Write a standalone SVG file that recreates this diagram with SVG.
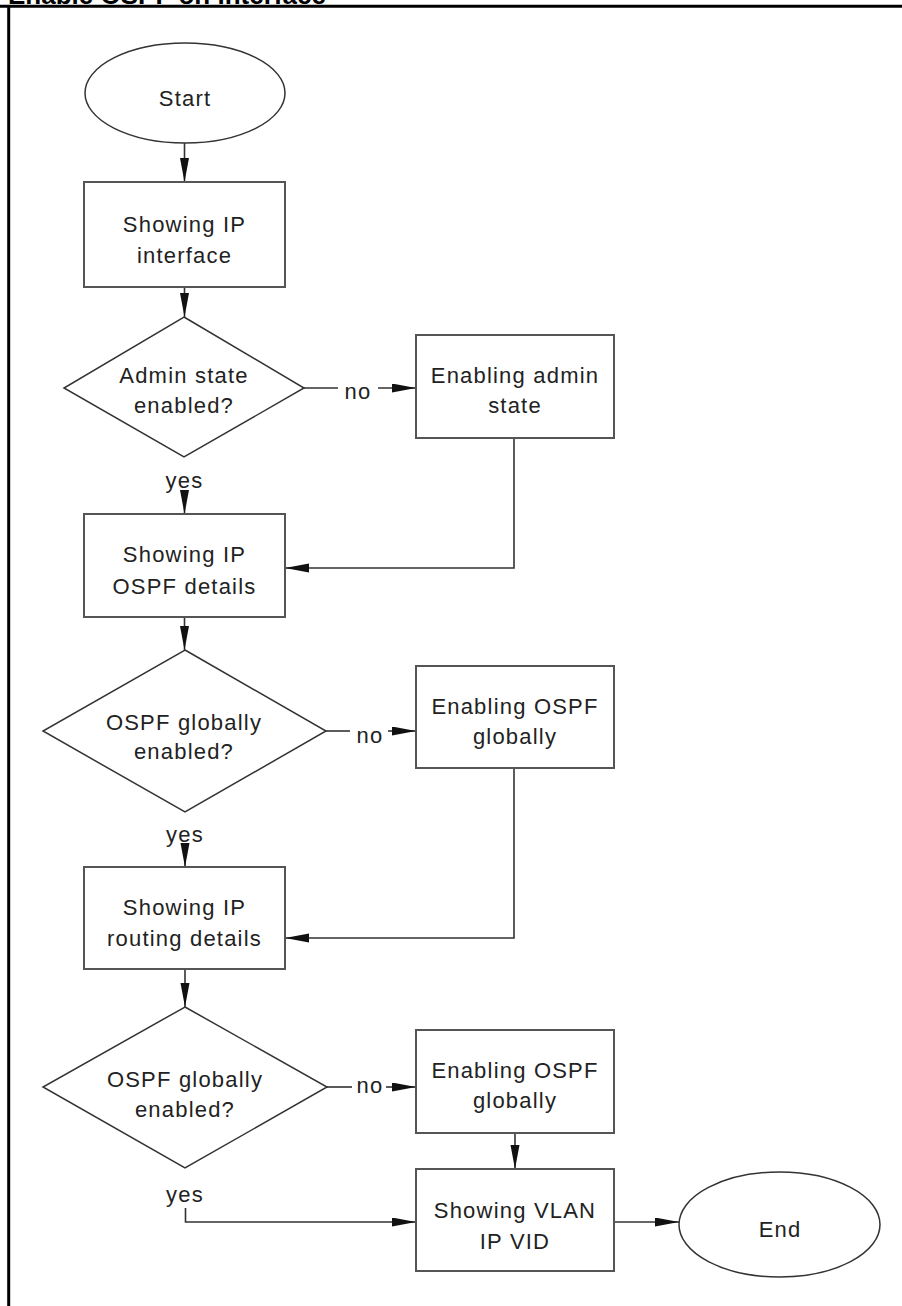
<svg xmlns="http://www.w3.org/2000/svg" width="902" height="1306" viewBox="0 0 902 1306">
<defs>
<marker id="arr" markerUnits="userSpaceOnUse" markerWidth="26" markerHeight="10" refX="24" refY="4.5" orient="auto">
<path d="M0,0 L24,4.5 L0,9 z" fill="#111"/>
</marker>
<style>
.box{fill:#fff;stroke:#555;stroke-width:2}
.dia{fill:#fff;stroke:#333;stroke-width:1.5}
.ell{fill:#fff;stroke:#333;stroke-width:1.5}
.t{font-family:"Liberation Sans",Arial,sans-serif;font-size:22px;fill:#222;text-anchor:middle;letter-spacing:1.2px}
.c{fill:none;stroke:#333;stroke-width:1.6}
.ca{fill:none;stroke:#333;stroke-width:1.6;marker-end:url(#arr)}
</style>
</defs>
<rect width="902" height="1306" fill="#fff"/>
<g id="frame">
<text x="8" y="3.5" font-family="'Liberation Sans',Arial,sans-serif" font-size="26" font-weight="bold" fill="#000">Enable OSPF on interface</text>
<line x1="0" y1="6.2" x2="902" y2="6.2" stroke="#000" stroke-width="3"/>
<line x1="8.7" y1="6" x2="8.7" y2="1306" stroke="#000" stroke-width="3"/>
</g>
<g id="connectors">
<path class="ca" d="M184.5 143 V182"/>
<path class="ca" d="M184.5 287 V317"/>
<path class="c" d="M304 388 H338"/>
<path class="ca" d="M378 388 H416"/>
<path class="ca" d="M184.5 493 V514"/>
<path class="ca" d="M514 438 V568 H285"/>
<path class="ca" d="M184.5 617 V650"/>
<path class="c" d="M326 731 H350"/>
<path class="ca" d="M388 731 H416"/>
<path class="ca" d="M185 846 V867"/>
<path class="ca" d="M514 768 V938 H285"/>
<path class="ca" d="M185 969 V1007"/>
<path class="c" d="M327 1087 H352"/>
<path class="ca" d="M386 1087 H416"/>
<path class="ca" d="M515 1133 V1169"/>
<path class="ca" d="M185.5 1208 V1222 H416"/>
<path class="ca" d="M614 1222 H679"/>
<text class="t" x="358" y="399">no</text>
<text class="t" x="184.5" y="488">yes</text>
<text class="t" x="370" y="742.5">no</text>
<text class="t" x="185" y="842">yes</text>
<text class="t" x="370" y="1093">no</text>
<text class="t" x="185" y="1201.5">yes</text>
</g>
<g id="start">
<ellipse class="ell" cx="185" cy="93" rx="100" ry="50"/>
<text class="t" x="185" y="106">Start</text>
</g>
<g id="showIpInterface">
<rect class="box" x="84" y="182" width="201" height="105"/>
<text class="t" x="184.5" y="231.5">Showing IP</text>
<text class="t" x="184.5" y="263">interface</text>
</g>
<g id="adminDecision">
<polygon class="dia" points="184,317 304,388 184,457 64,388"/>
<text class="t" x="184" y="382.5">Admin state</text>
<text class="t" x="184" y="413">enabled?</text>
</g>
<g id="enableAdmin">
<rect class="box" x="416" y="335" width="198" height="103"/>
<text class="t" x="515" y="382.5">Enabling admin</text>
<text class="t" x="515" y="413">state</text>
</g>
<g id="showOspfDetails">
<rect class="box" x="84" y="514" width="201" height="103"/>
<text class="t" x="184.5" y="562">Showing IP</text>
<text class="t" x="184.5" y="593.5">OSPF details</text>
</g>
<g id="ospfDecision1">
<polygon class="dia" points="185,650 326,731 185,812 43,731"/>
<text class="t" x="184" y="729.5">OSPF globally</text>
<text class="t" x="184" y="759">enabled?</text>
</g>
<g id="enableOspf1">
<rect class="box" x="416" y="666" width="198" height="102"/>
<text class="t" x="515" y="713.5">Enabling OSPF</text>
<text class="t" x="515" y="744">globally</text>
</g>
<g id="showRouting">
<rect class="box" x="84" y="867" width="201" height="102"/>
<text class="t" x="184.5" y="915">Showing IP</text>
<text class="t" x="184.5" y="946">routing details</text>
</g>
<g id="ospfDecision2">
<polygon class="dia" points="185,1007 327,1087 185,1168 43,1087"/>
<text class="t" x="185" y="1087">OSPF globally</text>
<text class="t" x="185" y="1116.5">enabled?</text>
</g>
<g id="enableOspf2">
<rect class="box" x="416" y="1030" width="198" height="103"/>
<text class="t" x="515" y="1077.5">Enabling OSPF</text>
<text class="t" x="515" y="1108">globally</text>
</g>
<g id="showVlan">
<rect class="box" x="416" y="1169" width="198" height="102"/>
<text class="t" x="515" y="1218">Showing VLAN</text>
<text class="t" x="515" y="1249">IP VID</text>
</g>
<g id="end">
<ellipse class="ell" cx="779.5" cy="1224.5" rx="100.5" ry="52.5"/>
<text class="t" x="780" y="1237">End</text>
</g>
</svg>
